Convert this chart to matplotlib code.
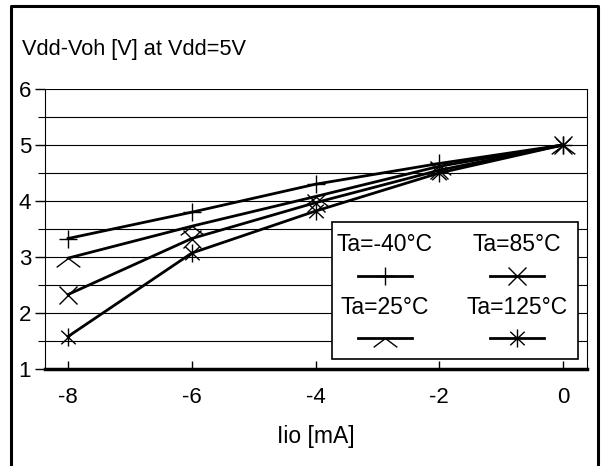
import matplotlib
matplotlib.use("Agg")
import matplotlib.pyplot as plt
from matplotlib.path import Path
from matplotlib.lines import Line2D
from matplotlib.patches import Rectangle

plt.rcParams['font.family'] = ['Liberation Sans', 'DejaVu Sans']

# data
iio = [-8, -6, -4, -2, 0]
v_m40 = [3.33, 3.80, 4.30, 4.67, 5.00]
v_25 = [2.98, 3.55, 4.08, 4.62, 5.00]
v_85 = [2.33, 3.33, 3.97, 4.55, 5.00]
v_125 = [1.58, 3.07, 3.82, 4.50, 5.00]
labels = ["Ta=-40°C", "Ta=25°C", "Ta=85°C", "Ta=125°C"]
xticks = [-8, -6, -4, -2, 0]
yticks = [1, 2, 3, 4, 5, 6]

# markers: plus, caret, x, asterisk
caret = Path([(-1, -0.75), (0, 0), (1, -0.75)])
aster = Path([(0, -1), (0, 1), (-0.8, -0.75), (0.8, 0.75), (-0.8, 0.75), (0.8, -0.75)],
             [Path.MOVETO, Path.LINETO, Path.MOVETO, Path.LINETO, Path.MOVETO, Path.LINETO])
markers = ['+', caret, 'x', aster]
msizes = [13, 17, 13, 13]
series = [v_m40, v_25, v_85, v_125]

fig = plt.figure(figsize=(6.01, 4.66), dpi=100)
ax = fig.add_axes([45/601, 1-369/466, 542/601, 280/466])

# grid every 0.5
for v in [1.5, 2, 2.5, 3, 3.5, 4, 4.5, 5, 5.5, 6]:
    ax.axhline(v, color='black', lw=0.8, zorder=1)

for ys, m, s in zip(series, markers, msizes):
    ax.plot(iio, ys, color='black', lw=2, marker=m, ms=s, mew=1,
            mfc='none', mec='black', zorder=3, clip_on=False)

ax.set_xlim(-8.372, 0.388)
ax.set_ylim(1, 6)
ax.set_xticks(xticks)
ax.set_xticklabels([str(t) for t in xticks])
ax.set_yticks(yticks)
ax.set_yticks([1.5, 2.5, 3.5, 4.5, 5.5], minor=True)
ax.tick_params(axis='x', direction='in', length=6, width=1, pad=13, labelsize=16)
ax.tick_params(axis='y', direction='out', length=7, width=1, pad=3, labelsize=16)
ax.tick_params(axis='y', which='minor', direction='out', length=5, width=0.8)
ax.spines['top'].set_visible(False)
ax.spines['left'].set_linewidth(0.8)
ax.spines['right'].set_linewidth(0.8)
ax.spines['bottom'].set_linewidth(2.5)
ax.set_xlabel("Iio [mA]", fontsize=16.5, labelpad=12)

fig.text(22/601, 1-50/466, "Vdd-Voh [V] at Vdd=5V", fontsize=15.7, va='center', ha='left')

# legend box: label above each sample line
ax.add_patch(Rectangle((0.5295, 0.0357), 0.4539, 0.4893, transform=ax.transAxes,
                       facecolor='white', edgecolor='black', lw=1.2, zorder=5))
pos = [(0.627, 0.443, 0.332), (0.627, 0.218, 0.111),
       (0.871, 0.443, 0.332), (0.871, 0.218, 0.111)]
for (cx, ty, ly), lab, m, s in zip(pos, labels, markers, msizes):
    ax.text(cx, ty, lab, transform=ax.transAxes, ha='center', va='center',
            fontsize=16.5, zorder=6)
    ax.add_line(Line2D([cx-0.05, cx+0.05], [ly, ly], transform=ax.transAxes,
                       color='black', lw=2, zorder=6))
    ax.add_line(Line2D([cx], [ly], transform=ax.transAxes, marker=m, ms=s,
                       mew=1, mfc='none', mec='black', lw=0, zorder=7))

# outer frame
fig.add_artist(Line2D([11/601, 11/601, 598/601, 598/601],
                      [-0.05, 1-6/466, 1-6/466, -0.05],
                      transform=fig.transFigure, color='black', lw=2.2))

fig.savefig("out.png", dpi=100)
